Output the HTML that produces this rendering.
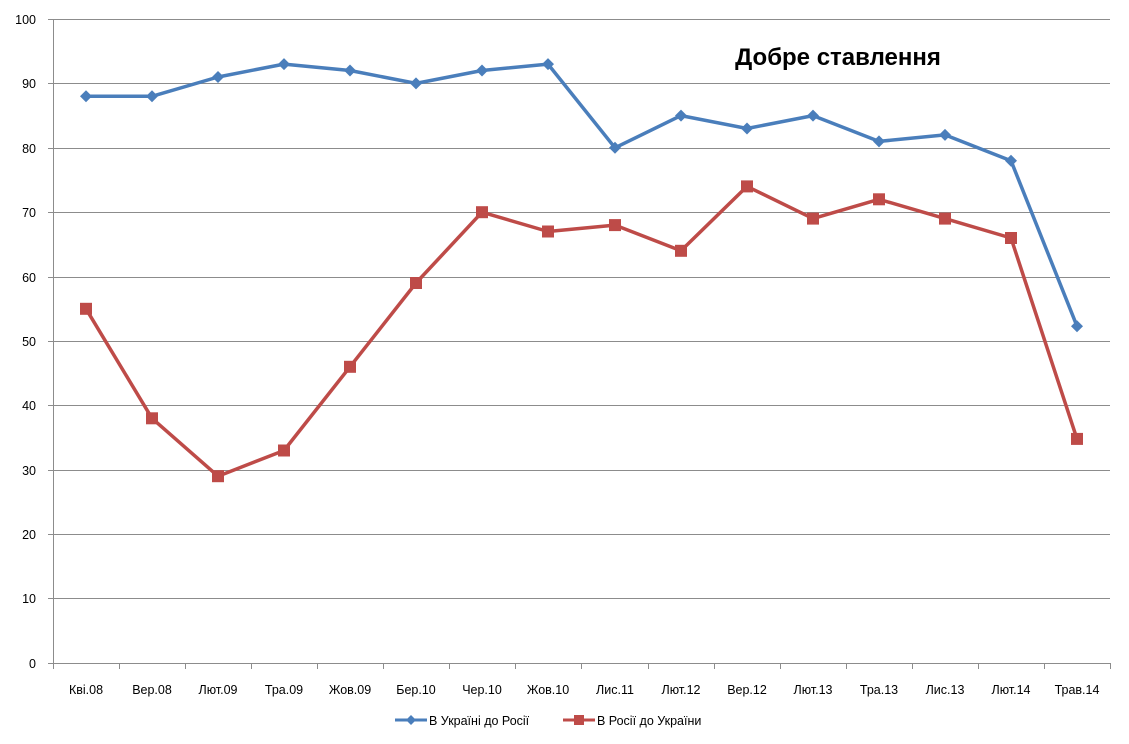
<!DOCTYPE html>
<html><head><meta charset="utf-8"><style>
html,body{margin:0;padding:0;background:#fff;}
svg{display:block;font-family:"Liberation Sans","DejaVu Sans",sans-serif;}
</style></head><body>
<svg width="1129" height="744" viewBox="0 0 1129 744" xmlns="http://www.w3.org/2000/svg">
<g stroke="#8c8c8c" stroke-width="1">
<line x1="48" y1="19.5" x2="1110" y2="19.5"/>
<line x1="48" y1="83.5" x2="1110" y2="83.5"/>
<line x1="48" y1="148.5" x2="1110" y2="148.5"/>
<line x1="48" y1="212.5" x2="1110" y2="212.5"/>
<line x1="48" y1="277.5" x2="1110" y2="277.5"/>
<line x1="48" y1="341.5" x2="1110" y2="341.5"/>
<line x1="48" y1="405.5" x2="1110" y2="405.5"/>
<line x1="48" y1="470.5" x2="1110" y2="470.5"/>
<line x1="48" y1="534.5" x2="1110" y2="534.5"/>
<line x1="48" y1="598.5" x2="1110" y2="598.5"/>
<line x1="48" y1="663.5" x2="1110" y2="663.5"/>
<line x1="53.5" y1="19" x2="53.5" y2="669"/>
<line x1="119.5" y1="663" x2="119.5" y2="669"/><line x1="185.5" y1="663" x2="185.5" y2="669"/>
<line x1="251.5" y1="663" x2="251.5" y2="669"/><line x1="317.5" y1="663" x2="317.5" y2="669"/>
<line x1="383.5" y1="663" x2="383.5" y2="669"/><line x1="449.5" y1="663" x2="449.5" y2="669"/>
<line x1="515.5" y1="663" x2="515.5" y2="669"/><line x1="581.5" y1="663" x2="581.5" y2="669"/>
<line x1="648.5" y1="663" x2="648.5" y2="669"/><line x1="714.5" y1="663" x2="714.5" y2="669"/>
<line x1="780.5" y1="663" x2="780.5" y2="669"/><line x1="846.5" y1="663" x2="846.5" y2="669"/>
<line x1="912.5" y1="663" x2="912.5" y2="669"/><line x1="978.5" y1="663" x2="978.5" y2="669"/>
<line x1="1044.5" y1="663" x2="1044.5" y2="669"/><line x1="1110.5" y1="663" x2="1110.5" y2="669"/>
</g>
<g font-size="12.5" fill="#000" text-anchor="end">
<text x="36" y="24">100</text><text x="36" y="88">90</text><text x="36" y="153">80</text>
<text x="36" y="217">70</text><text x="36" y="282">60</text><text x="36" y="346">50</text>
<text x="36" y="410">40</text><text x="36" y="475">30</text><text x="36" y="539">20</text>
<text x="36" y="603">10</text><text x="36" y="668">0</text>
</g>
<g font-size="12.5" fill="#000" text-anchor="middle">
<text x="86" y="694">Кві.08</text><text x="152" y="694">Вер.08</text><text x="218" y="694">Лют.09</text>
<text x="284" y="694">Тра.09</text><text x="350" y="694">Жов.09</text><text x="416" y="694">Бер.10</text>
<text x="482" y="694">Чер.10</text><text x="548" y="694">Жов.10</text><text x="615" y="694">Лис.11</text>
<text x="681" y="694">Лют.12</text><text x="747" y="694">Вер.12</text><text x="813" y="694">Лют.13</text>
<text x="879" y="694">Тра.13</text><text x="945" y="694">Лис.13</text><text x="1011" y="694">Лют.14</text>
<text x="1077" y="694">Трав.14</text>
</g>
<text x="838" y="65" font-size="24" font-weight="bold" text-anchor="middle" fill="#000">Добре ставлення</text>
<polyline fill="none" stroke="#4a7ebb" stroke-width="3.5" stroke-linejoin="round" points="86,96.3 152,96.3 218,77 284,64.1 350,70.5 416,83.4 482,70.5 548,64.1 615,147.8 681,115.6 747,128.5 813,115.6 879,141.4 945,134.9 1011,160.7 1077,326.2"/>
<g fill="#4a7ebb">
<path d="M86,90.3l6,6-6,6-6-6z"/><path d="M152,90.3l6,6-6,6-6-6z"/><path d="M218,71l6,6-6,6-6-6z"/>
<path d="M284,58.1l6,6-6,6-6-6z"/><path d="M350,64.5l6,6-6,6-6-6z"/><path d="M416,77.4l6,6-6,6-6-6z"/>
<path d="M482,64.5l6,6-6,6-6-6z"/><path d="M548,58.1l6,6-6,6-6-6z"/><path d="M615,141.8l6,6-6,6-6-6z"/>
<path d="M681,109.6l6,6-6,6-6-6z"/><path d="M747,122.5l6,6-6,6-6-6z"/><path d="M813,109.6l6,6-6,6-6-6z"/>
<path d="M879,135.4l6,6-6,6-6-6z"/><path d="M945,128.9l6,6-6,6-6-6z"/><path d="M1011,154.7l6,6-6,6-6-6z"/>
<path d="M1077,320.2l6,6-6,6-6-6z"/>
</g>
<polyline fill="none" stroke="#be4b48" stroke-width="3.5" stroke-linejoin="round" points="86,308.8 152,418.3 218,476.2 284,450.5 350,366.8 416,283 482,212.2 548,231.5 615,225.1 681,250.8 747,186.4 813,218.6 879,199.3 945,218.6 1011,238 1077,438.9"/>
<g fill="#be4b48">
<rect x="80" y="302.8" width="12" height="12"/><rect x="146" y="412.3" width="12" height="12"/>
<rect x="212" y="470.2" width="12" height="12"/><rect x="278" y="444.5" width="12" height="12"/>
<rect x="344" y="360.8" width="12" height="12"/><rect x="410" y="277" width="12" height="12"/>
<rect x="476" y="206.2" width="12" height="12"/><rect x="542" y="225.5" width="12" height="12"/>
<rect x="609" y="219.1" width="12" height="12"/><rect x="675" y="244.8" width="12" height="12"/>
<rect x="741" y="180.4" width="12" height="12"/><rect x="807" y="212.6" width="12" height="12"/>
<rect x="873" y="193.3" width="12" height="12"/><rect x="939" y="212.6" width="12" height="12"/>
<rect x="1005" y="232" width="12" height="12"/><rect x="1071" y="432.9" width="12" height="12"/>
</g>
<line x1="395" y1="720" x2="427" y2="720" stroke="#4a7ebb" stroke-width="3"/>
<path d="M411,715l5,5-5,5-5-5z" fill="#4a7ebb"/>
<text x="429" y="725" font-size="12.5" fill="#000">В Україні до Росії</text>
<line x1="563" y1="720" x2="595" y2="720" stroke="#be4b48" stroke-width="3"/>
<rect x="574" y="715" width="10" height="10" fill="#be4b48"/>
<text x="597" y="725" font-size="12.5" fill="#000">В Росії до України</text>
</svg>
</body></html>
